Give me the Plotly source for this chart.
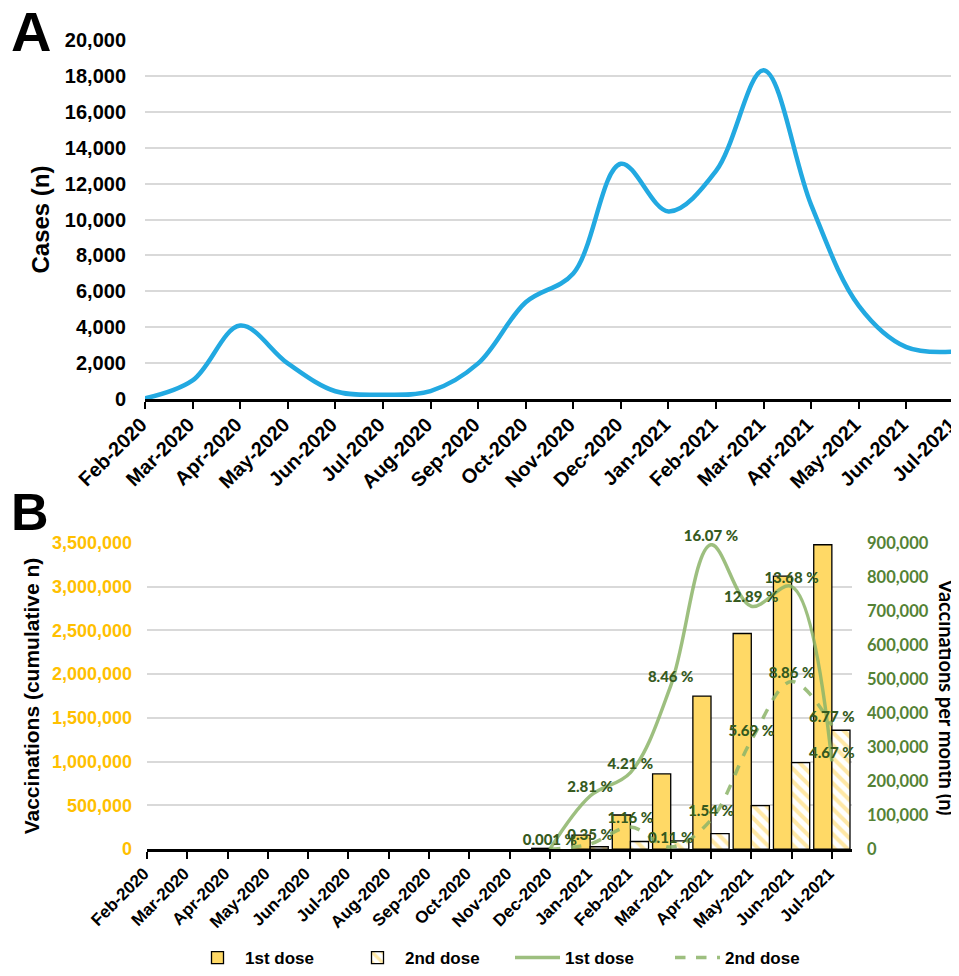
import plotly.graph_objects as go

months = ["Feb-2020", "Mar-2020", "Apr-2020", "May-2020", "Jun-2020", "Jul-2020",
          "Aug-2020", "Sep-2020", "Oct-2020", "Nov-2020", "Dec-2020", "Jan-2021",
          "Feb-2021", "Mar-2021", "Apr-2021", "May-2021", "Jun-2021", "Jul-2021"]

# panel A - monthly cases
cases = [50, 1050, 4100, 2000, 450, 260, 460, 2000, 5400, 7000,
         13100, 10450, 12700, 18300, 10800, 5200, 2900, 2650]

# panel B - cumulative vaccinations (bars)
dose1_cum = [None] * 10 + [9000, 160000, 390000, 860000, 1750000, 2465000, 3120000, 3480000]
dose2_cum = [None] * 10 + [None, 27000, 87000, 95000, 178000, 498000, 989000, 1359000]

# panel B - vaccinations per month (lines)
dose1_month = [None] * 10 + [0, 156000, 225000, 480000, 895000, 714000, 772000, 258000]
dose2_month = [None] * 10 + [0, 15000, 65000, 6000, 86000, 320000, 493000, 364000]
dose1_pct = [""] * 10 + ["0.001 %", "2.81 %", "4.21 %", "8.46 %", "16.07 %", "12.89 %", "13.68 %", "4.67 %"]
dose2_pct = [""] * 10 + ["", "0.35 %", "1.16 %", "0.11 %", "1.54 %", "5.69 %", "8.86 %", "6.77 %"]

# page body has an 8px margin, so the figure is a bit smaller than the window
OFF = 8
W, H = 959 - OFF, 976 - OFF


def px(x):
    return (x - OFF) / W


def py_(y):
    return 1 - (y - OFF) / H


ARIAL = "Liberation Sans, Arial, sans-serif"
CALIBRI = "Lato, Noto Sans, sans-serif"
gold = "#FFC000"
green_txt = "#365A1E"
green_tick = "#548235"
line_green = "rgba(140,180,105,0.85)"

fig = go.Figure()

fig.add_trace(go.Scatter(
    x=months, y=cases, xaxis="x", yaxis="y", mode="lines",
    line=dict(color="#22A9E1", width=4.5, shape="spline", smoothing=1.0),
    showlegend=False))

fig.add_trace(go.Bar(
    x=months, y=dose1_cum, xaxis="x2", yaxis="y2", name="1st dose",
    marker=dict(color="#FFD966", line=dict(color="black", width=1.3))))
fig.add_trace(go.Bar(
    x=months, y=dose2_cum, xaxis="x2", yaxis="y2", name="2nd dose",
    marker=dict(color="white", line=dict(color="black", width=1.3),
                pattern=dict(shape="\\", fgcolor="#FFD24D", bgcolor="white",
                             size=9, solidity=0.45))))

fig.add_trace(go.Scatter(
    x=months, y=dose1_month, xaxis="x2", yaxis="y3", name="1st dose",
    mode="lines+text", text=dose1_pct, textposition="top center",
    textfont=dict(family=CALIBRI, size=15, color=green_txt, weight=900),
    line=dict(color=line_green, width=3.5, shape="spline", smoothing=1.0),
    cliponaxis=False))
fig.add_trace(go.Scatter(
    x=months, y=dose2_month, xaxis="x2", yaxis="y3", name="2nd dose",
    mode="lines+text", text=dose2_pct, textposition="top center",
    textfont=dict(family=CALIBRI, size=15, color=green_txt, weight=900),
    line=dict(color=line_green, width=3.5, dash="dash", shape="spline", smoothing=1.0),
    cliponaxis=False))

xcommon = dict(type="category", showline=True, linecolor="black", linewidth=2.5,
               ticks="outside", ticklen=7, tickwidth=2, tickcolor="black",
               tickangle=-45, showgrid=False, zeroline=False, automargin=False)

fig.update_layout(
    width=W, height=H,
    margin=dict(l=0, r=0, t=0, b=0),
    paper_bgcolor="white", plot_bgcolor="white",
    font=dict(family=ARIAL, color="black"),
    barmode="group", bargap=0.1, bargroupgap=0,
    xaxis=dict(domain=[px(145), px(954)], anchor="y", range=[0, 17],
               ticklabelstandoff=-4, ticklabelshift=-4,
               tickfont=dict(size=20, weight="bold"), **xcommon),
    yaxis=dict(domain=[py_(403), py_(40)], anchor="x", range=[0, 20000],
               dtick=2000, tickformat=",d", showgrid=True, gridcolor="#D9D9D9",
               gridwidth=1.5, zeroline=False, showline=False, automargin=False,
               ticklabelstandoff=18, tickfont=dict(size=20, weight="bold"),
               title=dict(text="Cases (n)", font=dict(size=24, weight="bold"), standoff=8)),
    xaxis2=dict(domain=[px(147), px(852)], anchor="y2", range=[0, 17.5],
                ticklabelstandoff=-2, ticklabelshift=-3,
                tickfont=dict(size=17, weight="bold"), **xcommon),
    yaxis2=dict(domain=[py_(857), py_(548)], anchor="x2", range=[0, 3500000],
                dtick=500000, tickformat=",d", showgrid=True, gridcolor="#D9D9D9",
                gridwidth=1.5, zeroline=False, showline=False, automargin=False,
                ticklabelstandoff=14, tickfont=dict(size=18, color=gold, weight="bold"),
                title=dict(text="Vaccinations (cumulative n)",
                           font=dict(size=21, weight="bold"), standoff=6)),
    yaxis3=dict(overlaying="y2", anchor="x2", side="right", range=[0, 900000],
                dtick=100000, tickformat=",d", showgrid=False, zeroline=False,
                showline=False, automargin=False, ticklabelstandoff=14,
                tickfont=dict(family=CALIBRI, size=16.5, color=green_tick, weight="bold")),
    legend=dict(orientation="h", x=px(190), y=py_(967), xanchor="left", yanchor="middle",
                font=dict(size=17, weight="bold"), traceorder="normal", itemwidth=45,
                entrywidth=100, entrywidthmode="pixels"),
    separators=".,",
)

fig.add_annotation(text="A", x=px(31), y=py_(32), xref="paper", yref="paper",
                   xanchor="center", yanchor="middle",
                   showarrow=False, font=dict(size=56, weight="bold"))
fig.add_annotation(text="B", x=px(30), y=py_(517), xref="paper", yref="paper",
                   xanchor="center", yanchor="middle",
                   showarrow=False, font=dict(size=52, weight="bold"))
fig.add_annotation(text="Vaccinations per month (n)", x=px(947), y=py_(703),
                   xref="paper", yref="paper", showarrow=False, textangle=90,
                   xanchor="center", yanchor="middle",
                   font=dict(family=CALIBRI, size=20, weight="bold"))

fig.write_html("out.html")
